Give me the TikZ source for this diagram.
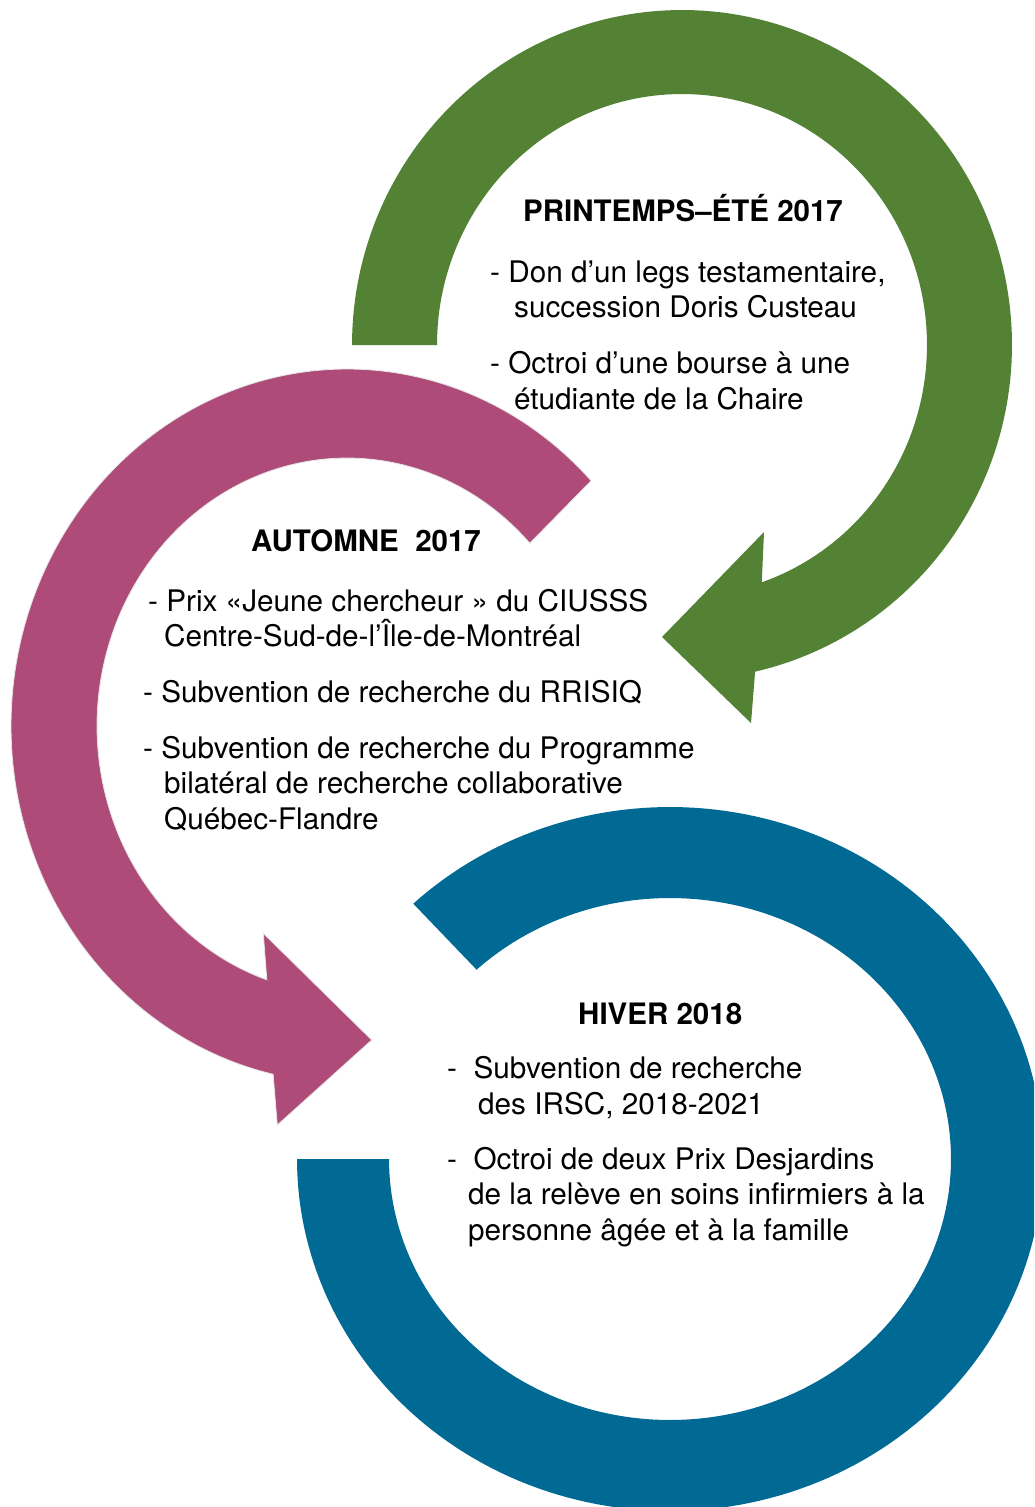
\documentclass[tikz,border=0pt]{standalone}
\usepackage{fontspec}
\setmainfont{TeX Gyre Heros}
\definecolor{cgreen}{RGB}{84,130,53}
\definecolor{cpink}{RGB}{174,75,121}
\definecolor{cblue}{RGB}{0,105,148}
\tikzset{
  txt/.style={anchor=base west, inner sep=0pt, font=\fontsize{29.7}{35}\selectfont},
  ttl/.style={anchor=base west, inner sep=0pt, font=\bfseries\fontsize{29.5}{35}\selectfont},
}
\begin{document}
\begin{tikzpicture}[x=1pt,y=-1pt]
\useasboundingbox (0,0) rectangle (1034,1507);
\clip (0,0) rectangle (1034,1507);
\fill[white] (0,0) rectangle (1034,1507);
% green arrow
\fill[cgreen] plot[domain=180:437.2,samples=160] ({682+330*cos(\x)},{345+335*sin(\x)})
  -- (751,723) -- (662,637) -- (764,532)
  -- plot[domain=431:180,samples=160] ({682+245*cos(\x)},{345+251*sin(\x)}) -- cycle;
% pink arrow
\filldraw[fill=cpink,draw=gray!20,line width=0.8pt] plot[domain=-43.4:-257.3,samples=160] ({347+336*cos(\x)},{726+357*sin(\x)})
  -- (277.3,1125) -- (371.7,1040) -- (263.3,933.3)
  -- plot[domain=-251.3:-43,samples=160] ({347+250*cos(\x)},{726+268*sin(\x)}) -- cycle;
% blue band
\fill[cblue] plot[domain=226.5:540,samples=200] ({670+373*cos(\x)},{1159+352*sin(\x)})
  -- plot[domain=540:226.5,samples=200] ({670+281*cos(\x)},{1159+261*sin(\x)}) -- cycle;
% texts: spring-summer
\node[ttl] (g0) at (523,221) {PRINTEMPS–ÉTÉ 2017};
\node[txt] (g1) at (490,282) {- Don d’un legs testamentaire,};
\node[txt] (g2) at (514,317) {succession Doris Custeau};
\node[txt] (g3) at (490,373) {- Octroi d’une bourse à une};
\node[txt] (g4) at (514,409) {étudiante de la Chaire};
% autumn
\node[ttl] (p0) at (251,551) {AUTOMNE~~2017};
\node[txt] (p1) at (148,611) {- Prix «Jeune chercheur » du CIUSSS};
\node[txt] (p2) at (164,646) {Centre-Sud-de-l’Île-de-Montréal};
\node[txt] (p3) at (143,702) {- Subvention de recherche du RRISIQ};
\node[txt] (p4) at (143,758) {- Subvention de recherche du Programme};
\node[txt] (p5) at (164,793) {bilatéral de recherche collaborative};
\node[txt] (p6) at (164,829) {Québec-Flandre};
% winter
\node[ttl] (b0) at (578,1024) {HIVER 2018};
\node[txt] (b1) at (447,1078) {-~~Subvention de recherche};
\node[txt] (b2) at (478,1114) {des IRSC, 2018-2021};
\node[txt] (b3) at (447,1169) {-~~Octroi de deux Prix Desjardins};
\node[txt] (b4) at (468,1204) {de la relève en soins infirmiers à la};
\node[txt] (b5) at (468,1240) {personne âgée et à la famille};
\end{tikzpicture}
\end{document}
